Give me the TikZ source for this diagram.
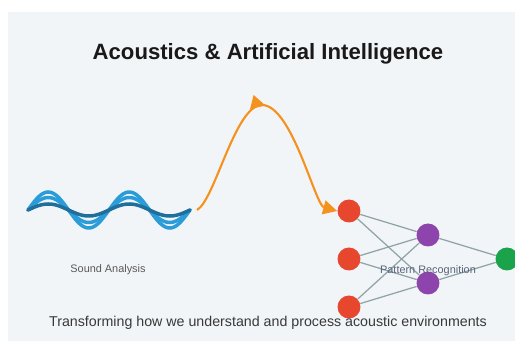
\documentclass[tikz,border=0pt]{standalone}
\usepackage{fontspec}
\setmainfont{Liberation Sans}
\usetikzlibrary{arrows.meta,decorations.markings}
\definecolor{panelgrey}{HTML}{F2F5F7}
\definecolor{waveblue}{HTML}{2A9DD8}
\definecolor{wavedark}{HTML}{1F6E9C}
\definecolor{flowornge}{HTML}{F5921E}
\definecolor{inred}{HTML}{E8472F}
\definecolor{hidpurple}{HTML}{8E44AD}
\definecolor{outgreen}{HTML}{1AA34A}
\definecolor{linkgrey}{HTML}{8FA3A6}
\definecolor{labelslate}{HTML}{56657A}

\begin{document}
\begin{tikzpicture}[x=0.02cm, y=-0.02cm,
	>={Triangle[length=0.28cm, width=0.28cm]},
	neuron/.style={circle, inner sep=0pt, minimum size=0.46cm},
	link/.style={draw=linkgrey, line width=0.7pt},
	wave/.style={line width=2pt, line cap=round}]
			%%%%% START %%%%%
			
			\useasboundingbox (0, 0) rectangle (515, 351);
			\fill[panelgrey] (8, 12) rectangle (520, 341);
			
			\node[anchor=base, font=\bfseries\fontsize{12.6}{15}\selectfont, text=black!90] (title) at (268, 60) {Acoustics \& Artificial Intelligence};
			
			\draw[wave, color=waveblue] plot[domain=0:162, samples=90] ({28+\x}, {210-18*sin(\x/81*360)});
			\draw[wave, color=waveblue] plot[domain=0:162, samples=90] ({28+\x}, {210-12.5*sin(\x/81*360)});
			\draw[wave, color=wavedark] plot[domain=0:162, samples=90] ({28+\x}, {210-6*sin(\x/81*360)});
			\coordinate (waveend) at (197, 210);
			\node[anchor=base, font=\fontsize{6.2}{7}\selectfont, text=black!65] (soundlbl) at (108, 273) {Sound Analysis};
			
			\node[neuron, fill=inred] (in1) at (349, 211) {};
			\node[neuron, fill=inred] (in2) at (349, 259) {};
			\node[neuron, fill=inred] (in3) at (349, 307) {};
			\node[neuron, fill=hidpurple] (hid1) at (428, 235) {};
			\node[neuron, fill=hidpurple] (hid2) at (428, 283) {};
			\node[neuron, fill=outgreen] (out) at (507, 259) {};
			
			\draw[link] (in1) -- (hid1);
			\draw[link] (in1) -- (hid2);
			\draw[link] (in2) -- (hid1);
			\draw[link] (in2) -- (hid2);
			\draw[link] (in3) -- (hid1);
			\draw[link] (in3) -- (hid2);
			\draw[link] (hid1) -- (out);
			\draw[link] (hid2) -- (out);
			
			\draw[flowornge, line width=1.2pt, ->, postaction={decorate},
				decoration={markings, mark=at position 0.5 with {\arrow{>}}}]
				(waveend) .. controls (215, 200) and (235, 105) .. (262, 105)
				.. controls (292, 105) and (315, 205) .. (in1.west);
			
			\node[anchor=base, font=\fontsize{6.2}{7}\selectfont, text=labelslate] (patternlbl) at (428, 274) {Pattern Recognition};
			
			\node[anchor=base, font=\fontsize{8.1}{10}\selectfont, text=black!78] (subtitle) at (268, 327) {Transforming how we understand and process acoustic environments};
			
			%%%%% END %%%%%
\end{tikzpicture}
\end{document}
